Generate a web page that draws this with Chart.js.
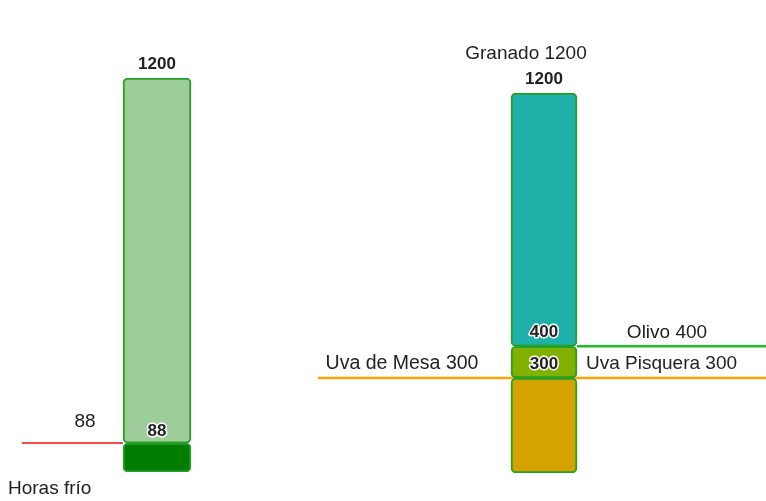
<!DOCTYPE html>
<html>
<head>
<meta charset="utf-8">
<script src="https://cdn.jsdelivr.net/npm/chart.js@4/dist/chart.umd.min.js"></script>
<style>
  body { margin: 0; background: #fff; }
  canvas { position: absolute; top: 0; }
  #graficoFrio { left: 0; }
  #graficoCultivos { left: 314px; }
</style>
</head>
<body>
<canvas id="graficoFrio" width="314" height="501"></canvas>
<canvas id="graficoCultivos" width="452" height="501"></canvas>
<script>
// datos
const etiquetaFrio = 'Horas frío';
const horasFrio = 88;
const maximoFrio = 1200;

const cultivos = ['Uva de Mesa', 'Uva Pisquera', 'Olivo', 'Granado'];
const requerimientos = [300, 300, 400, 1200];

const FUENTE = '"Liberation Sans", Arial, sans-serif';
const TEXTO = '#222';

function texto(ctx, t, x, y, opts) {
  ctx.save();
  ctx.font = (opts.bold ? 'bold ' : '') + opts.size + 'px ' + FUENTE;
  ctx.textAlign = opts.align || 'center';
  ctx.textBaseline = 'middle';
  if (opts.halo) {
    ctx.lineWidth = 3;
    ctx.strokeStyle = '#fff';
    ctx.lineJoin = 'round';
    ctx.strokeText(t, x, y);
  }
  ctx.fillStyle = TEXTO;
  ctx.fillText(t, x, y);
  ctx.restore();
}

function linea(ctx, x1, x2, y, color, ancho) {
  ctx.save();
  ctx.strokeStyle = color;
  ctx.lineWidth = ancho;
  ctx.beginPath();
  ctx.moveTo(x1, y);
  ctx.lineTo(x2, y);
  ctx.stroke();
  ctx.restore();
}

function segmento(desde, hasta, fondo) {
  return {
    data: [[desde, hasta]],
    backgroundColor: fondo,
    borderColor: '#25a025',
    borderWidth: 2,
    borderRadius: 5,
    borderSkipped: false,
    grouped: false
  };
}

function opciones(padding, grosor) {
  return {
    responsive: false,
    animation: false,
    devicePixelRatio: 1,
    layout: { padding: padding },
    datasets: { bar: { barThickness: grosor } },
    plugins: { legend: { display: false }, tooltip: { enabled: false } },
    scales: {
      x: { display: false },
      y: { display: false, min: 0, max: maximoFrio }
    }
  };
}

// HORAS FRIO
const lineasFrio = {
  id: 'lineasFrio',
  beforeDatasetsDraw(chart) {
    const ctx = chart.ctx;
    const barra = chart.getDatasetMeta(0).data[0];
    const y = chart.scales.y.getPixelForValue(horasFrio);
    linea(ctx, 22, barra.x - barra.width / 2, y, '#f01010', 1.5);
  },
  afterDatasetsDraw(chart) {
    const ctx = chart.ctx;
    const escala = chart.scales.y;
    const barra = chart.getDatasetMeta(0).data[0];
    const y = escala.getPixelForValue(horasFrio);
    texto(ctx, String(horasFrio), 85, y - 21, { size: 19 });
    texto(ctx, String(horasFrio), barra.x, y - 12, { size: 17, bold: true, halo: true });
    texto(ctx, String(maximoFrio), barra.x, escala.getPixelForValue(maximoFrio) - 14, { size: 17, bold: true });
    texto(ctx, etiquetaFrio, 8, 489, { size: 19, align: 'left' });
  }
};

new Chart(document.getElementById('graficoFrio'), {
  type: 'bar',
  data: {
    labels: [etiquetaFrio],
    datasets: [
      segmento(horasFrio, maximoFrio, '#9dcd9a'),
      segmento(0, horasFrio, '#007c00')
    ]
  },
  options: opciones({ top: 78, bottom: 29, left: 0, right: 0 }, 68),
  plugins: [lineasFrio]
});

// CULTIVOS
const lineasCultivos = {
  id: 'lineasCultivos',
  beforeDatasetsDraw(chart) {
    const ctx = chart.ctx;
    const escala = chart.scales.y;
    const barra = chart.getDatasetMeta(0).data[0];
    linea(ctx, 4, chart.width, escala.getPixelForValue(requerimientos[0]), '#ffa500', 2.5);
    linea(ctx, barra.x + barra.width / 2, chart.width, escala.getPixelForValue(requerimientos[2]), '#1cc01c', 2.5);
  },
  afterDatasetsDraw(chart) {
    const ctx = chart.ctx;
    const escala = chart.scales.y;
    const barra = chart.getDatasetMeta(0).data[0];
    const yMesa = escala.getPixelForValue(requerimientos[0]);
    const yOlivo = escala.getPixelForValue(requerimientos[2]);
    const yGranado = escala.getPixelForValue(requerimientos[3]);
    texto(ctx, String(requerimientos[2]), barra.x, yOlivo - 14, { size: 17, bold: true, halo: true });
    texto(ctx, String(requerimientos[1]), barra.x, yMesa - 14, { size: 17, bold: true, halo: true });
    texto(ctx, String(requerimientos[3]), barra.x, yGranado - 14, { size: 17, bold: true });
    texto(ctx, cultivos[3] + ' ' + requerimientos[3], barra.x - 18, yGranado - 39, { size: 19 });
    texto(ctx, cultivos[2] + ' ' + requerimientos[2], barra.x + 123, yOlivo - 14, { size: 19 });
    texto(ctx, cultivos[1] + ' ' + requerimientos[1], barra.x + 42, yMesa - 14, { size: 19, align: 'left' });
    texto(ctx, cultivos[0] + ' ' + requerimientos[0], barra.x - 142, yMesa - 14, { size: 19.5 });
  }
};

new Chart(document.getElementById('graficoCultivos'), {
  type: 'bar',
  data: {
    labels: cultivos.slice(3),
    datasets: [
      segmento(requerimientos[2], requerimientos[3], '#20b0aa'),
      segmento(requerimientos[0], requerimientos[2], '#80b000'),
      segmento(0, requerimientos[0], '#d4a300')
    ]
  },
  options: opciones({ top: 93, bottom: 28, left: 8, right: 0 }, 66),
  plugins: [lineasCultivos]
});
</script>
</body>
</html>
